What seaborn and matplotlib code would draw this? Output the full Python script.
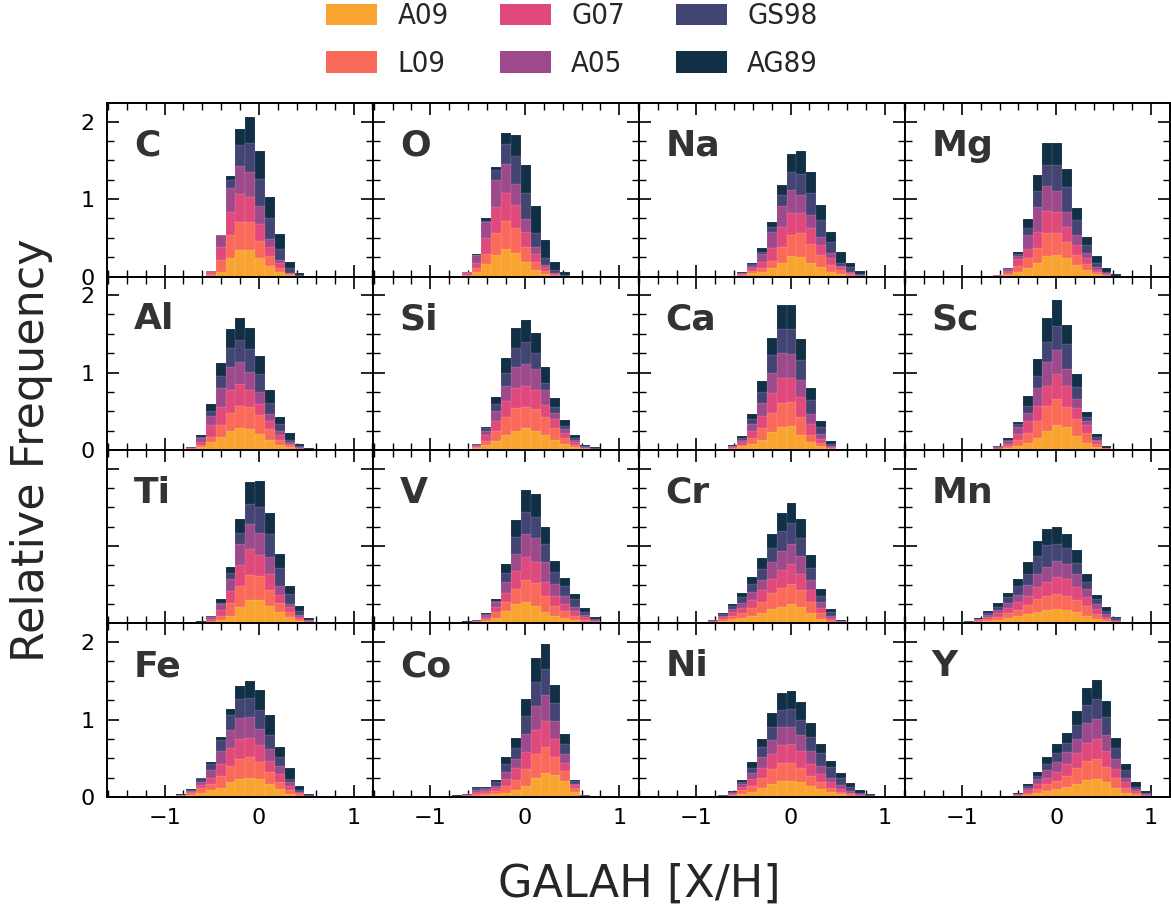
import numpy as np
import pandas as pd
import matplotlib
matplotlib.use("Agg")
import matplotlib.pyplot as plt
import seaborn as sns
from matplotlib.patches import Patch
from matplotlib.ticker import MultipleLocator, FixedLocator
from matplotlib import font_manager as fm

# ---------------- data ----------------
series = ["A09", "L09", "G07", "A05", "GS98", "AG89"]
colors = ["#f9a431", "#fa6a5a", "#e0497b", "#9c4a8b", "#424474", "#112f45"]
elements = ["C", "O", "Na", "Mg", "Al", "Si", "Ca", "Sc",
            "Ti", "V", "Cr", "Mn", "Fe", "Co", "Ni", "Y"]
bin_edges = np.linspace(-1.5, 1.0, 25)   # 24 bins shared by all panels

# Each row = one bin; the six numbers are the stacked tops of
# A09, +L09, +G07, +A05, +GS98, +AG89 (cumulative relative frequency).
Z = [0, 0, 0, 0, 0, 0]

C_tops = [Z] * 9 + [
    [0.01, 0.03, 0.06, 0.075, 0.077, 0.077],
    [0.064, 0.21, 0.376, 0.53, 0.53, 0.53],
    [0.235, 0.53, 0.83, 1.14, 1.25, 1.30],
    [0.34, 0.70, 1.07, 1.43, 1.70, 1.90],
    [0.34, 0.70, 1.03, 1.35, 1.72, 2.06],
    [0.235, 0.46, 0.68, 0.91, 1.26, 1.62],
    [0.137, 0.26, 0.38, 0.49, 0.75, 1.03],
    [0.064, 0.107, 0.17, 0.21, 0.36, 0.55],
    [0.02, 0.03, 0.04, 0.05, 0.107, 0.19],
    [0.005, 0.008, 0.01, 0.012, 0.02, 0.04],
] + [Z] * 5

O_tops = [Z] * 7 + [
    [0.002, 0.004, 0.007, 0.01, 0.012, 0.013],
    [0.01, 0.02, 0.04, 0.06, 0.06, 0.064],
    [0.055, 0.107, 0.18, 0.28, 0.28, 0.285],
    [0.16, 0.29, 0.50, 0.71, 0.72, 0.76],
    [0.28, 0.56, 0.90, 1.24, 1.37, 1.41],
    [0.35, 0.72, 1.08, 1.45, 1.71, 1.85],
    [0.30, 0.63, 0.92, 1.20, 1.56, 1.83],
    [0.19, 0.38, 0.58, 0.74, 1.08, 1.44],
    [0.085, 0.19, 0.29, 0.38, 0.56, 0.91],
    [0.034, 0.077, 0.12, 0.15, 0.235, 0.47],
    [0.01, 0.02, 0.034, 0.043, 0.085, 0.19],
    [0.003, 0.005, 0.007, 0.01, 0.02, 0.064],
    [0, 0, 0, 0, 0.003, 0.013],
] + [Z] * 4

Na_tops = [Z] * 8 + [
    [0.002, 0.004, 0.006, 0.008, 0.009, 0.01],
    [0.01, 0.02, 0.034, 0.043, 0.05, 0.055],
    [0.04, 0.077, 0.107, 0.14, 0.16, 0.17],
    [0.055, 0.107, 0.19, 0.29, 0.32, 0.37],
    [0.107, 0.20, 0.37, 0.57, 0.64, 0.71],
    [0.18, 0.385, 0.64, 0.91, 1.05, 1.18],
    [0.27, 0.53, 0.82, 1.12, 1.35, 1.58],
    [0.25, 0.56, 0.82, 1.05, 1.33, 1.62],
    [0.18, 0.42, 0.63, 0.79, 1.08, 1.35],
    [0.12, 0.28, 0.41, 0.51, 0.73, 0.92],
    [0.064, 0.15, 0.235, 0.31, 0.44, 0.57],
    [0.034, 0.085, 0.12, 0.137, 0.18, 0.32],
    [0.013, 0.03, 0.043, 0.055, 0.12, 0.18],
    [0.004, 0.008, 0.012, 0.016, 0.03, 0.077],
    [0, 0, 0.001, 0.002, 0.005, 0.013],
] + [Z] * 1

Mg_tops = [Z] * 7 + [
    [0.001, 0.002, 0.003, 0.004, 0.005, 0.005],
    [0.005, 0.01, 0.015, 0.018, 0.02, 0.02],
    [0.02, 0.043, 0.073, 0.1, 0.107, 0.115],
    [0.064, 0.13, 0.22, 0.265, 0.29, 0.32],
    [0.107, 0.235, 0.36, 0.53, 0.63, 0.74],
    [0.17, 0.37, 0.58, 0.90, 1.11, 1.31],
    [0.26, 0.56, 0.85, 1.17, 1.44, 1.73],
    [0.28, 0.56, 0.83, 1.11, 1.44, 1.72],
    [0.235, 0.44, 0.64, 0.83, 1.15, 1.39],
    [0.15, 0.28, 0.41, 0.53, 0.73, 0.89],
    [0.085, 0.16, 0.235, 0.31, 0.41, 0.51],
    [0.034, 0.064, 0.09, 0.12, 0.17, 0.27],
    [0.013, 0.02, 0.03, 0.04, 0.064, 0.115],
    [0.002, 0.004, 0.006, 0.008, 0.013, 0.03],
] + [Z] * 3

Al_tops = [Z] * 7 + [
    [0.009, 0.017, 0.026, 0.03, 0.033, 0.035],
    [0.043, 0.07, 0.104, 0.157, 0.174, 0.2],
    [0.104, 0.17, 0.32, 0.44, 0.51, 0.59],
    [0.17, 0.32, 0.56, 0.80, 0.95, 1.12],
    [0.24, 0.48, 0.77, 1.07, 1.32, 1.56],
    [0.29, 0.57, 0.85, 1.13, 1.42, 1.71],
    [0.27, 0.55, 0.77, 1.01, 1.30, 1.58],
    [0.21, 0.45, 0.59, 0.75, 0.98, 1.21],
    [0.126, 0.27, 0.37, 0.46, 0.61, 0.77],
    [0.07, 0.135, 0.19, 0.25, 0.33, 0.43],
    [0.035, 0.06, 0.083, 0.104, 0.135, 0.22],
    [0.009, 0.017, 0.026, 0.035, 0.048, 0.078],
    [0.002, 0.004, 0.006, 0.008, 0.012, 0.026],
] + [Z] * 4

Si_tops = [Z] * 8 + [
    [0.004, 0.009, 0.013, 0.013, 0.017, 0.017],
    [0.026, 0.039, 0.057, 0.07, 0.078, 0.083],
    [0.061, 0.12, 0.19, 0.24, 0.28, 0.30],
    [0.12, 0.24, 0.37, 0.50, 0.59, 0.68],
    [0.19, 0.42, 0.63, 0.82, 1.00, 1.19],
    [0.25, 0.54, 0.80, 1.07, 1.32, 1.57],
    [0.28, 0.56, 0.83, 1.11, 1.40, 1.68],
    [0.25, 0.53, 0.78, 1.04, 1.25, 1.51],
    [0.19, 0.42, 0.58, 0.77, 0.87, 1.07],
    [0.135, 0.29, 0.40, 0.48, 0.55, 0.67],
    [0.078, 0.157, 0.22, 0.27, 0.31, 0.39],
    [0.039, 0.07, 0.10, 0.126, 0.157, 0.2],
    [0.013, 0.022, 0.03, 0.039, 0.057, 0.07],
    [0.004, 0.007, 0.01, 0.013, 0.022, 0.035],
] + [Z] * 2

Ca_tops = [Z] * 7 + [
    [0.004, 0.007, 0.01, 0.012, 0.014, 0.017],
    [0.017, 0.026, 0.039, 0.048, 0.057, 0.061],
    [0.048, 0.07, 0.104, 0.135, 0.157, 0.178],
    [0.078, 0.157, 0.24, 0.34, 0.40, 0.46],
    [0.135, 0.28, 0.44, 0.61, 0.75, 0.89],
    [0.235, 0.48, 0.74, 1.00, 1.23, 1.45],
    [0.30, 0.61, 0.93, 1.25, 1.56, 1.87],
    [0.31, 0.62, 0.93, 1.24, 1.56, 1.87],
    [0.19, 0.42, 0.68, 0.90, 1.16, 1.43],
    [0.104, 0.20, 0.33, 0.46, 0.64, 0.80],
    [0.048, 0.09, 0.148, 0.21, 0.30, 0.37],
    [0.013, 0.022, 0.035, 0.048, 0.078, 0.113],
    [0.001, 0.002, 0.003, 0.004, 0.006, 0.01],
] + [Z] * 4

Sc_tops = [Z] * 6 + [
    [0.001, 0.002, 0.003, 0.004, 0.005, 0.009],
    [0.003, 0.006, 0.009, 0.012, 0.015, 0.017],
    [0.009, 0.017, 0.026, 0.035, 0.048, 0.057],
    [0.026, 0.048, 0.078, 0.113, 0.135, 0.157],
    [0.057, 0.126, 0.21, 0.30, 0.33, 0.36],
    [0.09, 0.22, 0.37, 0.48, 0.57, 0.70],
    [0.157, 0.37, 0.57, 0.80, 0.95, 1.17],
    [0.25, 0.57, 0.82, 1.14, 1.40, 1.70],
    [0.32, 0.66, 0.98, 1.29, 1.60, 1.94],
    [0.30, 0.55, 0.82, 1.05, 1.37, 1.62],
    [0.178, 0.40, 0.54, 0.66, 0.81, 0.98],
    [0.09, 0.22, 0.32, 0.37, 0.43, 0.49],
    [0.035, 0.078, 0.113, 0.135, 0.165, 0.21],
    [0.009, 0.015, 0.02, 0.025, 0.03, 0.048],
] + [Z] * 4

Ti_tops = [Z] * 7 + [
    [0.001, 0.002, 0.003, 0.004, 0.006, 0.009],
    [0.004, 0.009, 0.013, 0.017, 0.022, 0.026],
    [0.017, 0.035, 0.057, 0.078, 0.091, 0.1],
    [0.043, 0.1, 0.178, 0.25, 0.27, 0.32],
    [0.1, 0.265, 0.42, 0.57, 0.65, 0.73],
    [0.21, 0.48, 0.75, 1.03, 1.17, 1.35],
    [0.30, 0.63, 0.96, 1.28, 1.54, 1.83],
    [0.30, 0.61, 0.88, 1.17, 1.50, 1.84],
    [0.23, 0.43, 0.64, 0.86, 1.15, 1.43],
    [0.143, 0.26, 0.37, 0.48, 0.72, 0.90],
    [0.078, 0.143, 0.21, 0.25, 0.38, 0.49],
    [0.035, 0.057, 0.087, 0.113, 0.157, 0.22],
    [0.013, 0.022, 0.03, 0.039, 0.048, 0.074],
    [0.001, 0.002, 0.003, 0.004, 0.006, 0.013],
] + [Z] * 3

V_tops = [Z] * 7 + [
    [0.001, 0.002, 0.003, 0.003, 0.004, 0.004],
    [0.004, 0.009, 0.013, 0.017, 0.022, 0.026],
    [0.009, 0.017, 0.026, 0.035, 0.039, 0.043],
    [0.026, 0.057, 0.087, 0.109, 0.122, 0.13],
    [0.065, 0.143, 0.217, 0.274, 0.296, 0.317],
    [0.157, 0.283, 0.40, 0.53, 0.65, 0.77],
    [0.25, 0.45, 0.68, 0.90, 1.12, 1.33],
    [0.283, 0.565, 0.86, 1.15, 1.44, 1.73],
    [0.23, 0.52, 0.80, 1.10, 1.38, 1.67],
    [0.152, 0.36, 0.53, 0.80, 1.02, 1.24],
    [0.1, 0.23, 0.36, 0.51, 0.67, 0.81],
    [0.07, 0.165, 0.25, 0.35, 0.49, 0.59],
    [0.043, 0.1, 0.157, 0.217, 0.317, 0.38],
    [0.022, 0.048, 0.078, 0.109, 0.152, 0.196],
    [0.009, 0.022, 0.03, 0.043, 0.057, 0.078],
    [0.001, 0.002, 0.003, 0.004, 0.006, 0.013],
] + [Z] * 1

Cr_tops = [Z] * 4 + [
    [0.001, 0.002, 0.003, 0.004, 0.006, 0.009],
    [0.004, 0.009, 0.011, 0.013, 0.015, 0.017],
    [0.013, 0.022, 0.03, 0.035, 0.043, 0.048],
    [0.035, 0.057, 0.078, 0.1, 0.122, 0.13],
    [0.057, 0.1, 0.143, 0.187, 0.22, 0.25],
    [0.07, 0.13, 0.2, 0.27, 0.34, 0.40],
    [0.1, 0.2, 0.30, 0.41, 0.51, 0.60],
    [0.13, 0.274, 0.43, 0.565, 0.70, 0.84],
    [0.187, 0.39, 0.58, 0.80, 0.98, 1.16],
    [0.217, 0.46, 0.69, 0.94, 1.19, 1.43],
    [0.25, 0.51, 0.77, 1.03, 1.30, 1.55],
    [0.21, 0.43, 0.64, 0.87, 1.11, 1.35],
    [0.13, 0.274, 0.43, 0.56, 0.72, 0.89],
    [0.057, 0.13, 0.2, 0.274, 0.36, 0.44],
    [0.022, 0.043, 0.07, 0.1, 0.143, 0.187],
    [0.004, 0.013, 0.017, 0.026, 0.035, 0.043],
    [0.001, 0.001, 0.002, 0.002, 0.003, 0.004],
] + [Z] * 3

Mn_tops = [Z] * 4 + [
    [0.002, 0.003, 0.004, 0.005, 0.006, 0.009],
    [0.009, 0.013, 0.017, 0.022, 0.03, 0.035],
    [0.017, 0.026, 0.039, 0.052, 0.061, 0.074],
    [0.035, 0.061, 0.087, 0.113, 0.139, 0.165],
    [0.048, 0.087, 0.13, 0.174, 0.217, 0.265],
    [0.07, 0.13, 0.196, 0.265, 0.34, 0.40],
    [0.091, 0.178, 0.274, 0.374, 0.48, 0.58],
    [0.122, 0.24, 0.36, 0.50, 0.64, 0.80],
    [0.152, 0.31, 0.47, 0.64, 0.87, 1.06],
    [0.174, 0.35, 0.535, 0.73, 1.01, 1.22],
    [0.187, 0.38, 0.60, 0.81, 1.03, 1.24],
    [0.174, 0.36, 0.57, 0.77, 0.97, 1.15],
    [0.143, 0.30, 0.47, 0.635, 0.78, 0.95],
    [0.1, 0.22, 0.34, 0.45, 0.535, 0.64],
    [0.057, 0.122, 0.187, 0.25, 0.317, 0.374],
    [0.026, 0.057, 0.087, 0.122, 0.165, 0.21],
    [0.009, 0.017, 0.03, 0.043, 0.065, 0.087],
    [0.001, 0.002, 0.003, 0.004, 0.006, 0.013],
] + [Z] * 2

Fe_tops = [Z] * 4 + [
    [0.001, 0.002, 0.002, 0.003, 0.003, 0.004],
    [0.004, 0.007, 0.009, 0.011, 0.013, 0.017],
    [0.009, 0.017, 0.022, 0.026, 0.03, 0.035],
    [0.026, 0.048, 0.065, 0.078, 0.091, 0.1],
    [0.057, 0.113, 0.157, 0.196, 0.24, 0.25],
    [0.087, 0.165, 0.25, 0.35, 0.43, 0.45],
    [0.122, 0.274, 0.43, 0.59, 0.73, 0.78],
    [0.187, 0.40, 0.635, 0.86, 1.06, 1.14],
    [0.23, 0.49, 0.75, 1.02, 1.27, 1.43],
    [0.25, 0.51, 0.765, 1.03, 1.28, 1.50],
    [0.23, 0.45, 0.665, 0.88, 1.12, 1.38],
    [0.165, 0.317, 0.47, 0.62, 0.80, 1.06],
    [0.1, 0.187, 0.296, 0.40, 0.51, 0.64],
    [0.043, 0.091, 0.143, 0.187, 0.23, 0.38],
    [0.017, 0.035, 0.052, 0.07, 0.087, 0.143],
    [0.004, 0.009, 0.013, 0.017, 0.022, 0.035],
] + [Z] * 4

Co_tops = [Z] * 5 + [
    [0.001, 0.001, 0.002, 0.002, 0.003, 0.003],
    [0.001, 0.002, 0.002, 0.003, 0.003, 0.004],
    [0.004, 0.009, 0.011, 0.013, 0.017, 0.022],
    [0.009, 0.017, 0.026, 0.03, 0.035, 0.043],
    [0.017, 0.043, 0.07, 0.091, 0.113, 0.13],
    [0.022, 0.052, 0.078, 0.1, 0.122, 0.135],
    [0.035, 0.078, 0.113, 0.143, 0.187, 0.217],
    [0.057, 0.143, 0.23, 0.317, 0.426, 0.513],
    [0.087, 0.217, 0.37, 0.49, 0.635, 0.765],
    [0.143, 0.36, 0.58, 0.81, 1.04, 1.27],
    [0.25, 0.56, 0.86, 1.17, 1.48, 1.80],
    [0.31, 0.64, 0.98, 1.32, 1.65, 1.98],
    [0.283, 0.51, 0.75, 0.98, 1.21, 1.44],
    [0.2, 0.34, 0.44, 0.556, 0.687, 0.81],
    [0.07, 0.122, 0.157, 0.174, 0.2, 0.217],
    [0.004, 0.009, 0.013, 0.017, 0.022, 0.026],
] + [Z] * 3

Ni_tops = [Z] * 6 + [
    [0.001, 0.002, 0.003, 0.004, 0.005, 0.009],
    [0.004, 0.009, 0.013, 0.017, 0.022, 0.026],
    [0.017, 0.03, 0.043, 0.057, 0.065, 0.078],
    [0.043, 0.087, 0.13, 0.165, 0.196, 0.222],
    [0.065, 0.143, 0.23, 0.31, 0.38, 0.456],
    [0.113, 0.25, 0.38, 0.52, 0.64, 0.75],
    [0.165, 0.36, 0.55, 0.73, 0.90, 1.09],
    [0.2, 0.44, 0.67, 0.90, 1.12, 1.34],
    [0.21, 0.44, 0.68, 0.90, 1.14, 1.37],
    [0.187, 0.38, 0.59, 0.80, 1.0, 1.22],
    [0.143, 0.274, 0.426, 0.59, 0.78, 0.96],
    [0.1, 0.187, 0.296, 0.40, 0.565, 0.68],
    [0.065, 0.122, 0.187, 0.25, 0.39, 0.47],
    [0.035, 0.07, 0.109, 0.157, 0.243, 0.31],
    [0.017, 0.035, 0.057, 0.078, 0.13, 0.178],
    [0.009, 0.017, 0.026, 0.035, 0.057, 0.091],
    [0.003, 0.005, 0.009, 0.013, 0.022, 0.035],
] + [Z] * 1

Y_tops = [Z] * 8 + [
    [0.001, 0.001, 0.002, 0.002, 0.003, 0.004],
    [0.002, 0.004, 0.006, 0.007, 0.008, 0.009],
    [0.013, 0.022, 0.03, 0.039, 0.043, 0.052],
    [0.026, 0.057, 0.087, 0.122, 0.143, 0.165],
    [0.048, 0.109, 0.165, 0.23, 0.274, 0.317],
    [0.078, 0.165, 0.25, 0.35, 0.426, 0.513],
    [0.1, 0.21, 0.326, 0.45, 0.565, 0.68],
    [0.13, 0.274, 0.426, 0.58, 0.70, 0.83],
    [0.174, 0.38, 0.565, 0.75, 0.93, 1.11],
    [0.22, 0.47, 0.70, 0.95, 1.19, 1.41],
    [0.23, 0.49, 0.75, 1.01, 1.26, 1.51],
    [0.187, 0.39, 0.59, 0.80, 1.03, 1.24],
    [0.113, 0.243, 0.36, 0.49, 0.635, 0.765],
    [0.057, 0.122, 0.187, 0.25, 0.35, 0.42],
    [0.022, 0.048, 0.074, 0.1, 0.135, 0.196],
    [0.009, 0.017, 0.026, 0.035, 0.048, 0.078],
]

tops = {"C": C_tops, "O": O_tops, "Na": Na_tops, "Mg": Mg_tops,
        "Al": Al_tops, "Si": Si_tops, "Ca": Ca_tops, "Sc": Sc_tops,
        "Ti": Ti_tops, "V": V_tops, "Cr": Cr_tops, "Mn": Mn_tops,
        "Fe": Fe_tops, "Co": Co_tops, "Ni": Ni_tops, "Y": Y_tops}

# ---------------- plotting ----------------
sns.set_style("ticks")
plt.rcParams["font.family"] = ["DejaVu Sans"]
plt.rcParams["axes.linewidth"] = 1.4

palette = dict(zip(series, colors))
centers = 0.5 * (bin_edges[:-1] + bin_edges[1:])

fig, axes = plt.subplots(4, 4, figsize=(11.71, 9.07), dpi=100,
                         sharex=True, sharey=True)
fig.subplots_adjust(left=0.0918, right=0.9995, top=0.8864, bottom=0.1213,
                    wspace=0, hspace=0)

for ax, el in zip(axes.flat, elements):
    t = np.asarray(tops[el], dtype=float)
    assert t.shape == (len(centers), 6), el
    layers = np.clip(np.diff(np.hstack([np.zeros((len(t), 1)), t]), axis=1), 0, None)
    frames = []
    for j, s in enumerate(series):
        frames.append(pd.DataFrame({"x": centers, "w": layers[:, j], "series": s}))
    df = pd.concat(frames, ignore_index=True)
    sns.histplot(data=df, x="x", weights="w", hue="series",
                 hue_order=series[::-1], palette=palette,
                 multiple="stack", bins=bin_edges.tolist(), ax=ax, legend=False,
                 edgecolor=(1, 1, 1, 0.6), linewidth=0.12, alpha=1)
    ax.set_xlim(-1.604, 1.208)
    ax.set_ylim(0, 2.24)
    ax.set_xlabel("")
    ax.set_ylabel("")
    ax.xaxis.set_major_locator(FixedLocator([-1, 0, 1]))
    ax.xaxis.set_minor_locator(MultipleLocator(0.2))
    ax.yaxis.set_major_locator(FixedLocator([0, 1, 2]))
    ax.yaxis.set_minor_locator(MultipleLocator(0.25))
    ax.tick_params(which="both", direction="in", top=True, right=True,
                   bottom=True, left=True, colors="black")
    ax.tick_params(which="major", length=8.5, width=1.2, labelsize=16)
    ax.tick_params(which="minor", length=4.8, width=1.0)
    ax.tick_params(axis="x", which="major", pad=8)
    ax.tick_params(axis="y", which="major", pad=9)
    for sp in ax.spines.values():
        sp.set_visible(True)
        sp.set_linewidth(1.4)
        sp.set_color("black")
    ax.text(0.1, 0.695, el, transform=ax.transAxes, fontsize=26,
            fontweight="bold", color="#333333", ha="left", va="baseline")

# third row carries no y tick labels in the reference
axes[2, 0].tick_params(labelleft=False)

# legend: the reference uses a narrow (condensed) face
_cond = [f.fname for f in fm.fontManager.ttflist
         if f.name == "DejaVu Sans" and "ondensed" in f.fname
         and "Bold" not in f.fname and "Oblique" not in f.fname]
if _cond:
    leg_prop = fm.FontProperties(fname=_cond[0], size=21)
    colspace = 1.75
else:
    leg_prop = fm.FontProperties(family="DejaVu Sans", size=20)
    colspace = 1.25

handles = [Patch(facecolor=c, edgecolor="none", label=s)
           for s, c in zip(series, colors)]
fig.legend(handles=handles, ncol=3, loc="center",
           bbox_to_anchor=(0.4885, 0.9555), frameon=False, prop=leg_prop,
           handlelength=1.75, handleheight=0.75, handletextpad=0.7,
           columnspacing=colspace, labelspacing=0.68)

fig.text(0.027, 0.504, "Relative Frequency", rotation=90,
         ha="center", va="center", fontsize=32)
fig.text(0.5456, 0.0254, "GALAH [X/H]", ha="center", va="center", fontsize=32)

fig.savefig("out.png", dpi=100)
